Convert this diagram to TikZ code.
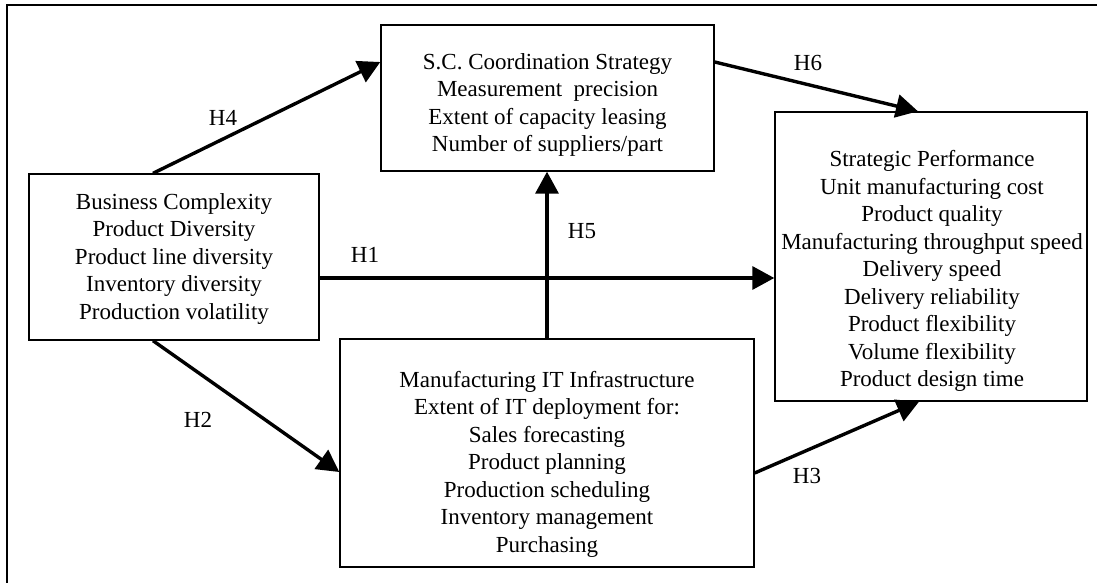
\documentclass[tikz,border=0pt]{standalone}
\usepackage{fontspec}
\setmainfont{Liberation Serif}
\usetikzlibrary{arrows.meta,calc}
\tikzset{
  font=\fontsize{11.5}{13.75}\selectfont,
  arrow/.style={-{Triangle[length=11pt,width=11.5pt]},draw=black,line width=1.7pt},
  frame/.style={draw=black,line width=1.1pt},
  box/.style={rectangle,draw=black,line width=0.7pt,fill=white,inner sep=0pt},
  boxtext/.style={align=center,inner sep=0pt},
  hyp/.style={inner sep=0pt},
}
\begin{document}
\begin{tikzpicture}[x=0.5pt,y=-0.5pt]

\clip (0,0) rectangle (1097,583);
\fill[white] (0,0) rectangle (1097,583);
\draw[frame] (7,5) rectangle (1110,600);

\node[box,minimum width=145pt,minimum height=83pt] (bc) at (174,257) {};
\node[boxtext] (bctext) at (174,259)
  {Business Complexity\\Product Diversity\\Product line diversity\\Inventory diversity\\Production volatility};

\node[box,minimum width=166.5pt,minimum height=73pt] (sc) at (547.5,98) {};
\node[boxtext] (sctext) at (547.5,105)
  {S.C. Coordination Strategy\\Measurement\ \ precision\\Extent of capacity leasing\\Number of suppliers/part};

\node[box,minimum width=156pt,minimum height=144.5pt] (sp) at (931,256.5) {};
\node[boxtext] (sptext) at (932,271)
  {Strategic Performance\\Unit manufacturing cost\\Product quality\\Manufacturing throughput speed\\Delivery speed\\Delivery reliability\\Product flexibility\\Volume flexibility\\Product design time};

\node[box,minimum width=207pt,minimum height=114pt] (it) at (547,453) {};
\node[boxtext] (ittext) at (547,464)
  {Manufacturing IT Infrastructure\\Extent of IT deployment for:\\Sales forecasting\\Product planning\\Production scheduling\\Inventory management\\Purchasing};

\draw[arrow] ([xshift=-10.5pt]bc.north) -- ([yshift=18pt]sc.west);
\draw[arrow] ([yshift=-10.5pt]bc.east) -- ([yshift=-10.5pt]bc.east -| sp.west);
\draw[arrow] ([xshift=-10.5pt]bc.south) -- ([yshift=-9.5pt]it.west);
\draw[arrow] (it.north) -- (it.north |- sc.south);
\draw[arrow] ([yshift=18pt]sc.east) -- ([xshift=-6.5pt]sp.north);
\draw[arrow] ([yshift=-10pt]it.east) -- ([xshift=-6pt]sp.south);

\node[hyp] (h4) at (223,118) {H4};
\node[hyp] (h1) at (365,255) {H1};
\node[hyp] (h2) at (198,420) {H2};
\node[hyp] (h5) at (582,231) {H5};
\node[hyp] (h6) at (808,63) {H6};
\node[hyp] (h3) at (807,476) {H3};

\end{tikzpicture}
\end{document}
